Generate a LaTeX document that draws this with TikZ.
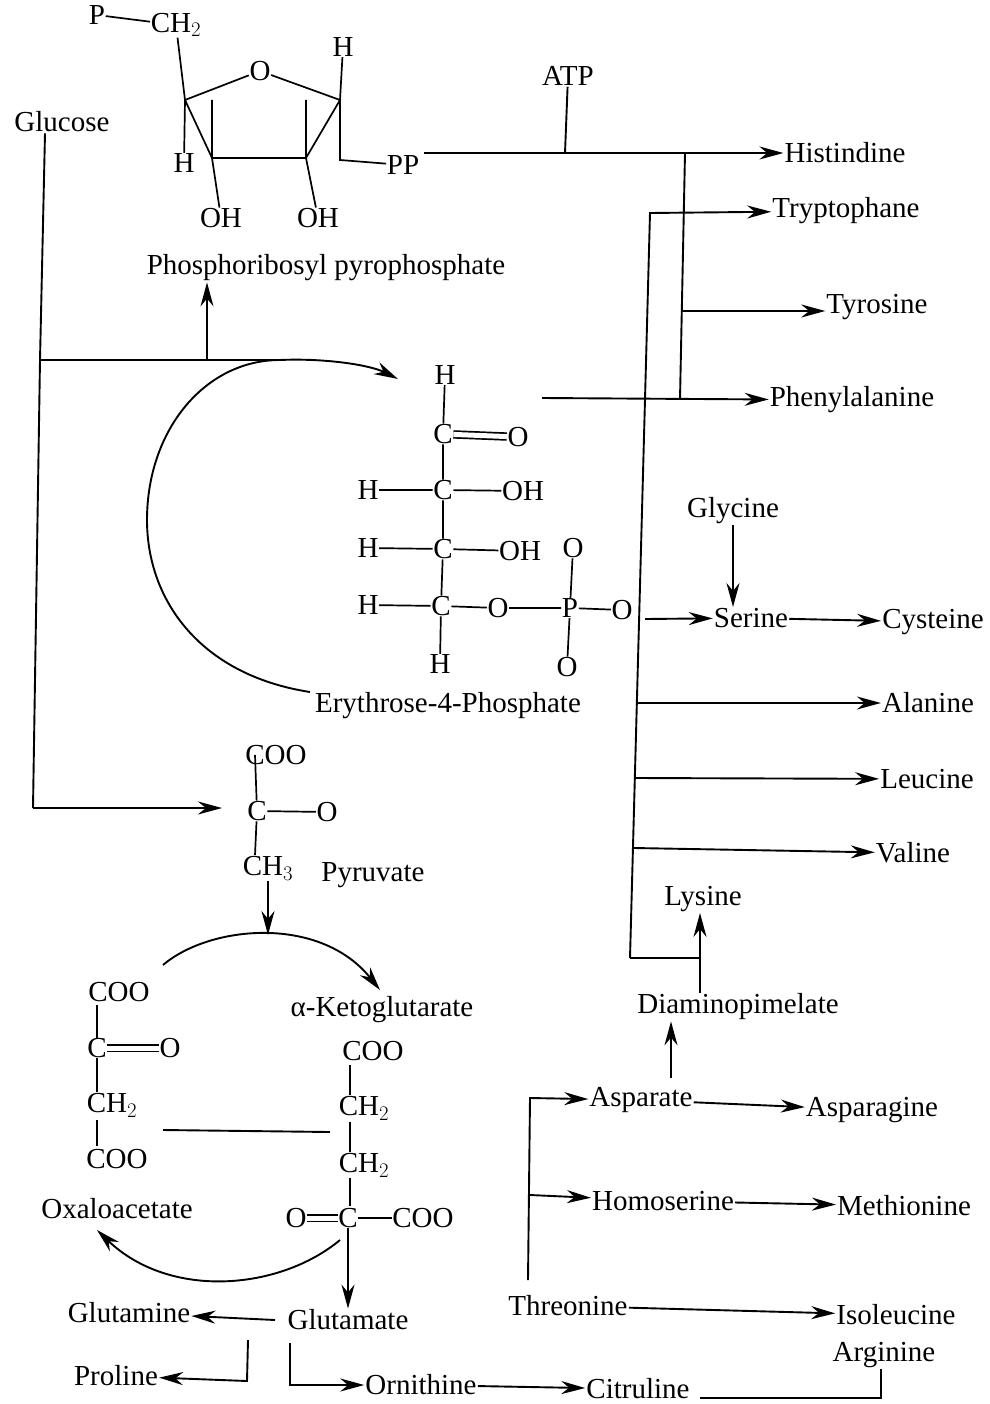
\documentclass[tikz,border=0pt]{standalone}
\usepackage{fontspec}
\setmainfont{Liberation Serif}
\usetikzlibrary{arrows.meta}

\begin{document}
\begin{tikzpicture}[
		x=1pt, y=-1pt,
		every node/.style = {inner sep=1pt, font=\fontsize{29}{32}\selectfont},
		atom/.style = {inner sep=0.5pt},
		bond/.style = {draw, line width=1.7pt},
		dbl/.style = {draw, line width=1.7pt, double, double distance=5pt},
		path/.style = {draw, line width=1.9pt},
		flow/.style = {draw, line width=1.9pt, -{Stealth[length=24pt,width=13pt]}}
	]
	\useasboundingbox (0,0) rectangle (989,1404);

	% ribose ring
	\node[atom] (pP) at (97,15) {P};
	\node[atom] (pCH) at (176,25) {CH$_2$};
	\node[atom] (rO) at (260,71) {O};
	\node[atom] (rH1) at (343,47) {H};
	\node[atom] (rH2) at (184,163) {H};
	\node[atom] (rPP) at (403,165) {PP};
	\node[atom] (rOH1) at (221,218) {OH};
	\node[atom] (rOH2) at (318,218) {OH};
	\coordinate (r1) at (185,100);
	\coordinate (r2) at (340,100);
	\coordinate (r3) at (306,158);
	\coordinate (r4) at (212,158);
	\coordinate (rb) at (340,160);
	\draw[bond] (pP) -- (pCH);
	\draw[bond] (pCH) -- (r1) -- (rO) -- (r2) -- (r3) -- (r4) -- (r1);
	\draw[bond] (r1) -- (rH2);
	\draw[bond] (r2) -- (rH1);
	\draw[bond] (r2) -- (rb) -- (rPP);
	\draw[bond] (212,100) -- (r4) -- (rOH1);
	\draw[bond] (306,100) -- (r3) -- (rOH2);

	% top products
	\node (Glucose) at (62,122) {Glucose};
	\node (ATP) at (568,76) {ATP};
	\node (Histindine) at (845,153) {Histindine};
	\node (Tryptophane) at (846,211) {Tryptophane};
	\node (Tyrosine) at (877,307) {Tyrosine};
	\node (Phenylalanine) at (852,400) {Phenylalanine};
	\node (PRPP) at (326,268) {Phosphoribosyl pyrophosphate};
	\coordinate (ppEnd) at (424,153);
	\coordinate (atpJoin) at (565,153);
	\coordinate (hisJoin) at (685,153);
	\coordinate (pheJoin) at (680,399);
	\coordinate (tyrJoin) at (681,311);
	\coordinate (e4pEnd) at (542,398);
	\draw[flow] (ppEnd) -- (Histindine);
	\draw[path] (ATP) -- (atpJoin);
	\draw[path] (hisJoin) -- (pheJoin);
	\draw[flow] (tyrJoin) -- (tyrJoin -| Tyrosine.west);
	\draw[flow] (e4pEnd) -- (Phenylalanine);

	% glucose branches
	\coordinate (gTop) at (45,145);
	\coordinate (gMid) at (40,360);
	\coordinate (gLow) at (33,808);
	\coordinate (gPrpp) at (207,360);
	\coordinate (gArc) at (280,360);
	\coordinate (e4pIn) at (398,379);
	\coordinate (e4pArc) at (310,692);
	\coordinate (pyrIn) at (222,808);
	\draw[path] (Glucose.south -| gTop) -- (gMid) -- (gLow);
	\draw[flow] (gLow) -- (pyrIn);
	\draw[path] (gMid) -- (gArc);
	\draw[flow] (gPrpp) -- (PRPP.south -| gPrpp);
	\draw[flow] (gArc) .. controls (325,358) and (370,365) .. (e4pIn);
	\draw[path] (e4pArc) .. controls (200,675) and (147,600) .. (147,520) .. controls (147,430) and (205,360) .. (gArc);

	% erythrose-4-phosphate
	\node[atom] (eH0) at (445,375) {H};
	\node[atom] (eC1) at (443,434) {C};
	\node[atom] (eO1) at (518,437) {O};
	\node[atom] (eH2) at (368,490) {H};
	\node[atom] (eC2) at (443,490) {C};
	\node[atom] (eOH2) at (523,491) {OH};
	\node[atom] (eH3) at (368,548) {H};
	\node[atom] (eC3) at (443,549) {C};
	\node[atom] (eOH3) at (520,551) {OH};
	\node[atom] (eH4) at (368,605) {H};
	\node[atom] (eC4) at (441,606) {C};
	\node[atom] (eO4) at (498,608) {O};
	\node[atom] (eP) at (570,608) {P};
	\node[atom] (ePO1) at (573,548) {O};
	\node[atom] (ePO2) at (567,667) {O};
	\node[atom] (ePO3) at (622,610) {O};
	\node[atom] (eH5) at (440,664) {H};
	\node (E4P) at (448,706) {Erythrose-4-Phosphate};
	\draw[bond] (eH0) -- (eC1) -- (eC2) -- (eC3) -- (eC4) -- (eH5);
	\draw[dbl] (eC1) -- (eO1);
	\draw[bond] (eH2) -- (eC2) -- (eOH2);
	\draw[bond] (eH3) -- (eC3) -- (eOH3);
	\draw[bond] (eH4) -- (eC4) -- (eO4) -- (eP) -- (ePO3);
	\draw[bond] (ePO1) -- (eP) -- (ePO2);

	% right hand products
	\node (Glycine) at (733,511) {Glycine};
	\node (Serine) at (751,618) {Serine};
	\node (Cysteine) at (933,622) {Cysteine};
	\node (Alanine) at (928,703) {Alanine};
	\node (Leucine) at (927,779) {Leucine};
	\node (Valine) at (913,853) {Valine};
	\node (Lysine) at (703,899) {Lysine};
	\node (Diamino) at (738,1007) {Diaminopimelate};
	\coordinate (trpTop) at (650,213);
	\coordinate (trpLow) at (630,958);
	\coordinate (dapJoin) at (700,958);
	\coordinate (serOut) at (645,619);
	\coordinate (alaOut) at (636,703);
	\coordinate (leuOut) at (635,778);
	\coordinate (valOut) at (634,848);
	\draw[flow] (trpLow) -- (trpTop) -- (Tryptophane);
	\draw[path] (trpLow) -- (dapJoin);
	\draw[flow] (serOut) -- (Serine);
	\draw[flow] (Glycine) -- (Glycine |- Serine.north);
	\draw[flow] (Serine) -- (Cysteine);
	\draw[flow] (alaOut) -- (Alanine);
	\draw[flow] (leuOut) -- (Leucine);
	\draw[flow] (valOut) -- (Valine);
	\draw[flow] (Diamino.north -| dapJoin) -- (Lysine.south -| dapJoin);

	% pyruvate
	\node[atom] (pyCOO) at (276,755) {COO};
	\node[atom] (pyC) at (257,811) {C};
	\node[atom] (pyO) at (327,812) {O};
	\node[atom] (pyCH) at (268,868) {CH$_3$};
	\node (Pyruvate) at (373,875) {Pyruvate};
	\coordinate (pyTop) at (255,755);
	\coordinate (pyBot) at (255,855);
	\coordinate (pyArc) at (268,935);
	\draw[bond] (pyTop) -- (pyC) -- (pyBot);
	\draw[bond] (pyC) -- (pyO);
	\draw[flow] (pyCH) -- (pyArc);

	% oxaloacetate
	\node[atom] (oCOO1) at (119,992) {COO};
	\node[atom] (oC) at (97,1048) {C};
	\node[atom] (oO) at (170,1048) {O};
	\node[atom] (oCH) at (112,1105) {CH$_2$};
	\node[atom] (oCOO2) at (117,1159) {COO};
	\node (Oxalo) at (117,1209) {Oxaloacetate};
	\coordinate (o1) at (97,1005);
	\coordinate (o2) at (97,1092);
	\coordinate (o3) at (97,1120);
	\coordinate (o4) at (97,1146);
	\draw[bond] (o1) -- (oC) -- (o2);
	\draw[bond] (o3) -- (o4);
	\draw[dbl] (oC) -- (oO);

	% ketoglutarate
	\node (Keto) at (382,1010) {α-Ketoglutarate};
	\node[atom] (kCOO1) at (373,1051) {COO};
	\node[atom] (kCH1) at (364,1108) {CH$_2$};
	\node[atom] (kCH2) at (364,1165) {CH$_2$};
	\node[atom] (kO) at (296,1218) {O};
	\node[atom] (kC) at (348,1218) {C};
	\node[atom] (kCOO2) at (423,1218) {COO};
	\coordinate (k1) at (350,1065);
	\coordinate (k2) at (350,1095);
	\coordinate (k3) at (350,1122);
	\coordinate (k4) at (350,1152);
	\coordinate (k5) at (350,1178);
	\coordinate (k6) at (350,1206);
	\coordinate (oxL) at (163,1130);
	\coordinate (oxR) at (330,1132);
	\draw[bond] (k1) -- (k2);
	\draw[bond] (k3) -- (k4);
	\draw[bond] (k5) -- (k6);
	\draw[dbl] (kO) -- (kC);
	\draw[bond] (kC) -- (kCOO2);
	\draw[path] (oxL) -- (oxR);

	% cycle arcs
	\coordinate (arcA) at (163,965);
	\coordinate (arcB) at (380,990);
	\coordinate (arcC) at (340,1240);
	\coordinate (arcD) at (97,1230);
	\draw[flow] (arcA) .. controls (210,925) and (320,915) .. (arcB);
	\draw[flow] (arcC) .. controls (280,1290) and (170,1300) .. (arcD);

	% amino acids, bottom
	\node (Glutamate) at (348,1320) {Glutamate};
	\node (Glutamine) at (129,1313) {Glutamine};
	\node (Proline) at (116,1376) {Proline};
	\node (Ornithine) at (421,1385) {Ornithine};
	\node (Citruline) at (638,1389) {Citruline};
	\node (Arginine) at (884,1355) {Arginine};
	\node (Asparate) at (641,1100) {Asparate};
	\node (Asparagine) at (872,1110) {Asparagine};
	\node (Homoserine) at (663,1201) {Homoserine};
	\node (Methionine) at (904,1206) {Methionine};
	\node (Threonine) at (568,1306) {Threonine};
	\node (Isoleucine) at (896,1315) {Isoleucine};
	\coordinate (gluL) at (275,1320);
	\coordinate (proTop) at (248,1340);
	\coordinate (proBot) at (247,1381);
	\coordinate (ornTop) at (290,1343);
	\coordinate (ornBot) at (290,1385);
	\coordinate (citOut) at (700,1398);
	\coordinate (argBot) at (881,1398);
	\coordinate (thrTop) at (530,1098);
	\coordinate (thrBot) at (528,1280);
	\coordinate (thrMid) at (530,1195);
	\coordinate (aspUp) at (671,1078);
	\draw[flow] (kC) -- (Glutamate);
	\draw[flow] (gluL) -- (Glutamine);
	\draw[flow] (proTop) -- (proBot) -- (Proline);
	\draw[flow] (ornTop) -- (ornBot) -- (Ornithine);
	\draw[flow] (Ornithine) -- (Citruline);
	\draw[path] (citOut) -- (argBot) -- (Arginine.south -| argBot);
	\draw[flow] (thrBot) -- (thrTop) -- (Asparate);
	\draw[flow] (thrMid) -- (Homoserine);
	\draw[flow] (Asparate) -- (Asparagine);
	\draw[flow] (Homoserine) -- (Methionine);
	\draw[flow] (Threonine) -- (Isoleucine);
	\draw[flow] (aspUp) -- (Diamino.south -| aspUp);
\end{tikzpicture}
\end{document}
